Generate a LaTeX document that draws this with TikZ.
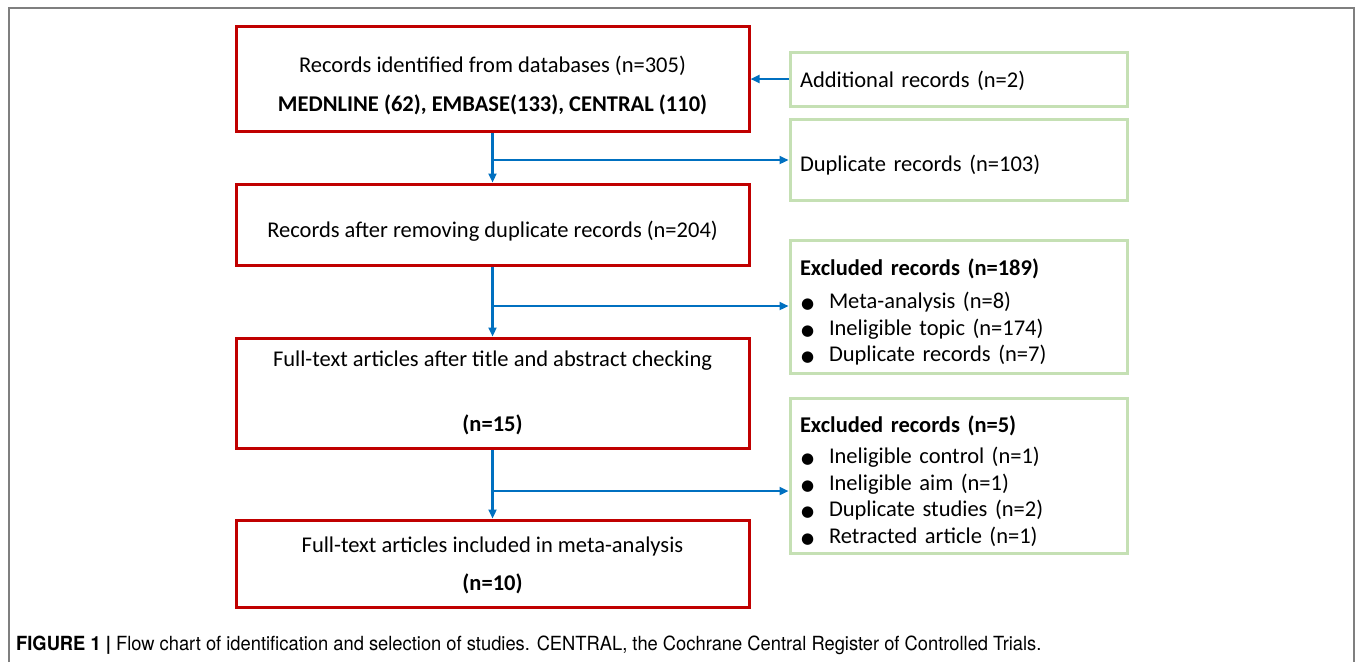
\documentclass[tikz,border=0pt]{standalone}
\usepackage{fontspec}
\setmainfont{Carlito}
\newfontfamily\symfont{DejaVu Sans}
\newfontfamily\capfont[FakeStretch=0.94]{TeX Gyre Heros}
\usetikzlibrary{arrows.meta,calc}
\definecolor{boxred}{HTML}{C00000}
\definecolor{boxgreen}{HTML}{C5E0B4}
\definecolor{arrowblue}{HTML}{0070C0}
\definecolor{framegray}{HTML}{7F7F7F}
\newcommand{\bul}{\makebox[29pt][l]{\hspace{1pt}{\symfont\fontsize{15}{15}\selectfont ●}}}
\newcommand{\tstrut}[1]{\rule{0pt}{#1}}
\newcommand{\bstrut}{\rule[-7pt]{0pt}{7pt}}
\tikzset{
  redbox/.style={draw=boxred, line width=3pt, minimum width=513pt, align=center, inner sep=0pt},
  greenbox/.style={draw=boxgreen, line width=3pt, minimum width=337pt, text width=317pt, inner xsep=10pt, inner ysep=0pt, align=left},
  flow/.style={draw=arrowblue, line width=2.2pt, -{Triangle[length=9pt,width=8pt]}},
  every node/.style={font=\fontsize{22.5}{26.5}\selectfont}
}
\begin{document}
\begin{tikzpicture}[x=1pt,y=-1pt]
\useasboundingbox (0,0) rectangle (1357,662);
\fill[white] (0,0) rectangle (1357,662);
% frame
\draw[framegray, line width=1.5pt] (9,662) -- (9,8) -- (1354,8) -- (1354,662);

% red boxes
\node[redbox, minimum height=105pt] (b1) at (492.5,78.5) {\tstrut{33pt}Records identified from databases (n=305)\\[12.5pt]\textbf{MEDNLINE (62), EMBASE(133), CENTRAL (110)}\bstrut};
\node[redbox, minimum height=81pt] (b2) at (492.5,224.5) {\tstrut{33.4pt}Records after removing duplicate records (n=204)\bstrut};
\node[redbox, minimum height=110pt] (b3) at (492.5,393) {Full-text articles after title and abstract checking\\[39pt]\textbf{(n=15)}};
\node[redbox, minimum height=87pt] (b4) at (492.5,563.5) {\tstrut{23pt}Full-text articles included in meta-analysis\\[11.5pt]\textbf{(n=10)}\bstrut};

% green boxes
\node[greenbox, minimum height=54pt] (add) at (958.5,79) {\tstrut{24.4pt}Additional records (n=2)\bstrut};
\node[greenbox, minimum height=81pt] (dup) at (958.5,159.5) {\tstrut{31.4pt}Duplicate records (n=103)\bstrut};
\node[greenbox, minimum height=133pt] (ex1) at (958.5,306.5) {\tstrut{31pt}\textbf{Excluded records (n=189)}\\[7pt]
\bul Meta-analysis (n=8)\\
\bul Ineligible topic (n=174)\\
\bul Duplicate records (n=7)\bstrut};
\node[greenbox, minimum height=155pt] (ex2) at (958.5,475.5) {\tstrut{32pt}\textbf{Excluded records (n=5)}\\[4.5pt]
\bul Ineligible control (n=1)\\
\bul Ineligible aim (n=1)\\
\bul Duplicate studies (n=2)\\
\bul Retracted article (n=1)\bstrut};

% connectors
\coordinate (j1) at (492.5,160);
\coordinate (j2) at (492.5,306);
\coordinate (j3) at (492.5,491);
\draw[flow] (add.west) -- (add.west -| b1.east);
\draw[flow] (b1.south) -- (b2.north);
\draw[flow] (j1) -- (j1 -| dup.west);
\draw[flow] (b2.south) -- (b3.north);
\draw[flow] (j2) -- (j2 -| ex1.west);
\draw[flow] (b3.south) -- (b4.north);
\draw[flow] (j3) -- (j3 -| ex2.west);

% caption
\node[anchor=west, inner sep=0pt, font=\capfont\fontsize{19.5}{22}\selectfont] (cap) at (16,645) {\textbf{FIGURE 1 |} Flow chart of identification and selection of studies. CENTRAL, the Cochrane Central Register of Controlled Trials.};
\end{tikzpicture}
\end{document}
